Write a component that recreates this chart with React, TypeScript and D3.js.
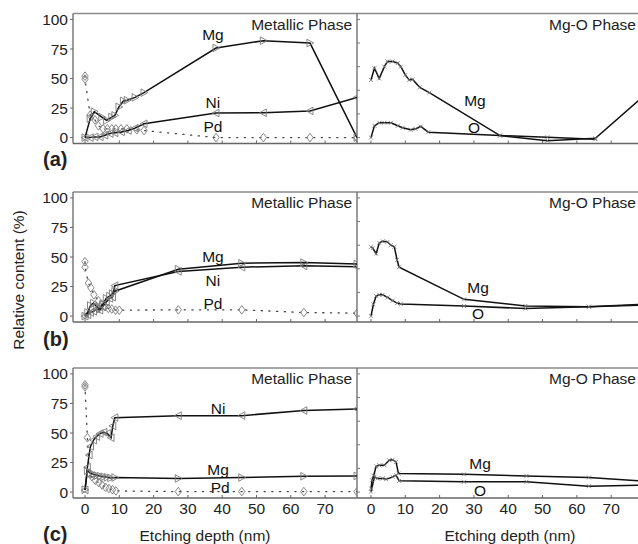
import React from "react";
import * as d3 from "d3";

type P = [number, number];

// ---------- tick labels / categories ----------
const yTicksLeft = [0, 25, 50, 75, 100];
const yTicksRight = [0, 20, 40, 60, 80, 100];
const xTicks = [0, 10, 20, 30, 40, 50, 60, 70];
const panelLetters = ["(a)", "(b)", "(c)"];

// ---------- panel (a) ----------
const aMetMg: P[] = [[0, 0], [1.5, 16], [2.7, 22], [4.9, 17.4], [6.3, 14.5], [7.8, 17.4], [8.7, 18.8], [9.9, 26], [11.2, 31], [12.3, 31.6], [14.6, 34], [17.2, 38], [38.2, 75.8], [52, 82], [65.6, 80], [79.3, 0]];
const aMetNi: P[] = [[0, 0], [1.5, 0], [2.9, 0.6], [4.4, 0.6], [5.8, 2], [7.3, 3.4], [8.7, 4], [10.6, 4.8], [12.6, 6], [14.6, 8], [17.2, 11.7], [38.2, 20.8], [52, 21], [65.6, 22.6], [79.3, 34]];
const aMetPd: P[] = [[0, 52], [0, 49.5], [1.5, 19], [2.9, 15], [3.9, 10], [5.3, 7.4], [6.5, 7.4], [7.8, 7.4], [9, 7.4], [10.5, 7.4], [12.2, 7.4], [15.1, 6.6], [17.2, 6.0], [38.2, 0], [52, 0], [65.6, 0], [79.3, 0]];
const aOxMg: P[] = [[0, 48.7], [1, 58.7], [2.4, 50], [3.9, 60], [4.8, 64.4], [6.3, 64.4], [7.8, 63], [8.7, 60], [10, 53], [11.1, 48.7], [12.1, 49.3], [14.2, 42.5], [17, 38], [37.6, 1.7], [51.4, -2.6], [65.4, -0.6], [79, 34]];
const aOxO: P[] = [[0, 0], [1, 10], [2.4, 12.5], [3.9, 12.5], [5.8, 12.5], [7.8, 10], [9.2, 8.3], [11.6, 6.6], [13, 7.4], [14.5, 9.4], [16.7, 4.6], [37.6, 1.7], [51.4, 0.3], [65.4, -1.4]];

// ---------- panel (b) ----------
const bMetMg: P[] = [[0, 0], [0.8, 3], [1.6, 9], [2.5, 11], [3.4, 8], [4.3, 6], [5.2, 10], [6.2, 15], [7.2, 17], [8, 19], [8.7, 21], [27.2, 39.7], [45.7, 44.7], [63.8, 45.3], [79.3, 44]];
const bMetNi: P[] = [[0, 0], [0.8, 1], [1.6, 3], [2.5, 4], [3.4, 6], [4.3, 5], [5.2, 8], [6.2, 12], [7.2, 15], [8, 16], [8.7, 25.8], [27.2, 37.8], [45.7, 41.4], [63.8, 42.5], [79.3, 41.7]];
const bMetPd: P[] = [[0, 46], [0, 41.4], [1, 28], [1.7, 24], [2.6, 18], [3.9, 13], [4.8, 10], [5.8, 8], [6.8, 6.5], [7.8, 6], [8.9, 5], [10, 5], [27.2, 5.3], [45.7, 5.3], [63.8, 3], [79.3, 2.5]];
const bOxMg: P[] = [[0, 58.6], [0.5, 57.5], [1.5, 52.8], [2.4, 61.9], [3.4, 63.3], [4.8, 62.8], [5.8, 60], [6.8, 58.6], [7.6, 47.5], [8.2, 41.4], [27.1, 14.2], [45, 8.6], [63.5, 7.8], [78.5, 10]];
const bOxO: P[] = [[0, 0], [0.7, 10], [1.5, 17], [2.4, 18], [3.4, 18], [4.8, 15.8], [6.3, 13], [7.6, 11], [8.7, 10.3], [27.1, 8.6], [45, 6.4], [63.5, 8], [78.5, 9.2]];

// ---------- panel (c) ----------
const cMetNi: P[] = [[0, 1.7], [0.7, 21], [1.2, 31.4], [1.6, 38.7], [2.5, 44], [3.4, 47], [4.4, 49.6], [5.5, 50.7], [6.5, 49.6], [7.6, 46], [8.1, 56], [8.7, 63], [27.2, 64.7], [45.7, 64.7], [63.8, 69], [79.3, 70.3]];
const cMetMg: P[] = [[0, 2], [0.7, 18], [1.5, 16], [2.5, 15], [3.5, 14], [4.5, 13.5], [5.5, 13], [6.5, 12.5], [7.5, 12], [8.7, 12.3], [27.2, 11.5], [45.7, 12.3], [63.8, 13.4], [79.3, 13.7]];
const cMetPd: P[] = [[0, 90.8], [0, 89], [0.7, 46], [1.2, 16], [2, 13], [3, 10], [4, 8], [5, 6], [6, 4], [7, 3], [8, 2], [9, 1], [27.2, 0.4], [45.7, 0.4], [63.8, 0.4], [79.3, 0.4]];
const cOxMg: P[] = [[0, 3], [0.3, 10], [0.8, 14], [1.5, 21.8], [2.4, 22.7], [3.9, 22.7], [5.3, 26.9], [6.3, 27.4], [7.3, 25.5], [8, 15.7], [27.1, 15], [45.3, 13.7], [63.5, 12.3], [78.5, 9.5]];
const cOxO: P[] = [[0, 0.3], [1, 12.9], [1.9, 11.6], [3.4, 11.6], [4.4, 10.8], [6.3, 12.9], [7.3, 14.3], [8.2, 9.5], [27.1, 8.7], [45.3, 8.7], [63.5, 5], [78.5, 5.9]];

// ---------- series label annotations (data coords) ----------
type Lab = { t: string; x: number; y: number };
const aMetLabels: Lab[] = [{ t: "Mg", x: 37.3, y: 82.6 }, { t: "Ni", x: 37.3, y: 25 }, { t: "Pd", x: 37.3, y: 4.7 }];
const aOxLabels: Lab[] = [{ t: "Mg", x: 30.3, y: 26.7 }, { t: "O", x: 30, y: 3.9 }];
const bMetLabels: Lab[] = [{ t: "Mg", x: 37.3, y: 45.8 }, { t: "Ni", x: 37.3, y: 25.5 }, { t: "Pd", x: 37.3, y: 6 }];
const bOxLabels: Lab[] = [{ t: "Mg", x: 31.2, y: 19.6 }, { t: "O", x: 31.2, y: -2.5 }];
const cMetLabels: Lab[] = [{ t: "Ni", x: 38.8, y: 66 }, { t: "Mg", x: 38.8, y: 14.5 }, { t: "Pd", x: 39.4, y: -0.8 }];
const cOxLabels: Lab[] = [{ t: "Mg", x: 31.8, y: 19.5 }, { t: "O", x: 31.8, y: -3.3 }];

const panels = [
  { met: { Mg: aMetMg, Ni: aMetNi, Pd: aMetPd }, ox: { Mg: aOxMg, O: aOxO }, metLab: aMetLabels, oxLab: aOxLabels },
  { met: { Mg: bMetMg, Ni: bMetNi, Pd: bMetPd }, ox: { Mg: bOxMg, O: bOxO }, metLab: bMetLabels, oxLab: bOxLabels },
  { met: { Mg: cMetMg, Ni: cMetNi, Pd: cMetPd }, ox: { Mg: cOxMg, O: cOxO }, metLab: cMetLabels, oxLab: cOxLabels },
];

// ---------- layout ----------
const W = 638, H = 544;
const FONT = "'Liberation Sans', Arial, Helvetica, sans-serif";
const FS = 15.5;
const panelTops = [13.5, 192, 368];
const panelH = 130;
const xL0 = 73, xDiv = 357, xR1 = 640;
const leftDomain: [number, number] = [-3.5, 79.3];
const rightDomain: [number, number] = [-4.08, 78.4];
const yDomain: [number, number] = [-5, 105];

const markerPath: Record<string, string> = {
  right: "M-3,-3.8L3.8,0L-3,3.8Z",
  left: "M3,-3.8L-3.8,0L3,3.8Z",
  diamond: "M0,-4.3L3.2,0L0,4.3L-3.2,0Z",
  x: "M-2,-2L2,2M-2,2L2,-2",
};

export default function App() {
  const xl = d3.scaleLinear().domain(leftDomain).range([xL0, xDiv]);
  const xr = d3.scaleLinear().domain(rightDomain).range([xDiv, xR1]);

  return (
    <svg width={W} height={H} style={{ display: "block", position: "absolute", left: 0, top: 0, background: "#fff" }} fontFamily={FONT}>
      <defs>
        {panelTops.map((t, i) => (
          <React.Fragment key={i}>
            <clipPath id={`cl${i}`}><rect x={xL0} y={t} width={xDiv - xL0} height={panelH} /></clipPath>
            <clipPath id={`cr${i}`}><rect x={xDiv} y={t} width={xR1 - xDiv} height={panelH} /></clipPath>
          </React.Fragment>
        ))}
      </defs>
      {panels.map((p, i) => {
        const top = panelTops[i];
        const bot = top + panelH;
        const y = d3.scaleLinear().domain(yDomain).range([bot, top]);
        const lineL = d3.line<P>().x((d) => xl(d[0])).y((d) => y(d[1]));
        const lineR = d3.line<P>().x((d) => xr(d[0])).y((d) => y(d[1]));
        const metSeries = [
          { key: "Pd", data: p.met.Pd, marker: "diamond", dotted: true },
          { key: "Ni", data: p.met.Ni, marker: "left", dotted: false },
          { key: "Mg", data: p.met.Mg, marker: "right", dotted: false },
        ];
        const oxSeries = [
          { key: "O", data: p.ox.O },
          { key: "Mg", data: p.ox.Mg },
        ];
        return (
          <g key={i}>
            {/* frame */}
            <line x1={xL0} x2={W} y1={top} y2={top} stroke="#8a8a8a" strokeWidth={1.3} />
            <line x1={xL0} x2={W} y1={bot} y2={bot} stroke="#666" strokeWidth={1.3} />
            <line x1={xL0} x2={xL0} y1={top} y2={bot} stroke="#666" strokeWidth={1.3} />
            <line x1={xDiv} x2={xDiv} y1={top} y2={bot} stroke="#666" strokeWidth={1.3} />
            {/* y ticks left */}
            {yTicksLeft.map((v) => (
              <g key={v}>
                <line x1={xL0 - 3} x2={xL0} y1={y(v)} y2={y(v)} stroke="#666" />
                <text x={68} y={y(v)} dy="0.36em" textAnchor="end" fontSize={FS} fill="#222">{v}</text>
              </g>
            ))}
            {/* right-panel y ticks on divider */}
            {yTicksRight.map((v) => (
              <line key={v} x1={xDiv} x2={xDiv + 3} y1={y(v)} y2={y(v)} stroke="#777" />
            ))}
            {/* x ticks */}
            {xTicks.map((v) => (
              <g key={v}>
                <line x1={xl(v)} x2={xl(v)} y1={bot} y2={bot - 3} stroke="#666" />
                <line x1={xr(v)} x2={xr(v)} y1={bot} y2={bot - 3} stroke="#666" />
              </g>
            ))}
            {i === 2 && xTicks.map((v) => (
              <g key={"l" + v}>
                <text x={xl(v)} y={bot + 16} textAnchor="middle" fontSize={FS} fill="#222">{v}</text>
                <text x={xr(v)} y={bot + 16} textAnchor="middle" fontSize={FS} fill="#222">{v}</text>
              </g>
            ))}
            {/* phase titles */}
            <text x={352} y={top + 16} textAnchor="end" fontSize={FS} fill="#222">Metallic Phase</text>
            <text x={636} y={top + 16} textAnchor="end" fontSize={FS} fill="#222">Mg-O Phase</text>
            {/* panel letter */}
            <text x={43} y={[166, 346, 541][i]} fontSize={20} fontWeight="bold" fill="#222">{panelLetters[i]}</text>

            {/* metallic series */}
            <g clipPath={`url(#cl${i})`}>
              {metSeries.map((s) => (
                <g key={s.key}>
                  <path d={lineL(s.data) || ""} fill="none" stroke={s.dotted ? "#444" : "#111"} strokeWidth={s.dotted ? 1.3 : 1.5} strokeDasharray={s.dotted ? "1.2 6.5" : undefined} strokeLinecap={s.dotted ? "round" : "butt"} />
                  {s.data.map((d, k) => (
                    <path key={k} d={markerPath[s.marker]} transform={`translate(${xl(d[0])},${y(d[1])})`} fill="none" stroke="#7a7a7a" strokeWidth={0.9} />
                  ))}
                </g>
              ))}
            </g>
            {/* oxide series */}
            <g clipPath={`url(#cr${i})`}>
              {oxSeries.map((s) => (
                <g key={s.key}>
                  <path d={lineR(s.data) || ""} fill="none" stroke="#111" strokeWidth={1.5} />
                  {s.data.map((d, k) => (
                    <path key={k} d={markerPath.x} transform={`translate(${xr(d[0])},${y(d[1])})`} fill="none" stroke="#777" strokeWidth={0.8} />
                  ))}
                </g>
              ))}
            </g>
            {/* series labels */}
            {p.metLab.map((l) => (
              <text key={l.t} x={xl(l.x)} y={y(l.y)} textAnchor="middle" fontSize={FS} fill="#111">{l.t}</text>
            ))}
            {p.oxLab.map((l) => (
              <text key={l.t} x={xr(l.x)} y={y(l.y)} textAnchor="middle" fontSize={FS} fill="#111">{l.t}</text>
            ))}
          </g>
        );
      })}
      {/* axis titles */}
      <text transform="translate(24,280) rotate(-90)" textAnchor="middle" fontSize={FS} fill="#222">Relative content (%)</text>
      <text x={205} y={541} textAnchor="middle" fontSize={FS} fill="#222">Etching depth (nm)</text>
      <text x={510} y={541} textAnchor="middle" fontSize={FS} fill="#222">Etching depth (nm)</text>
    </svg>
  );
}
